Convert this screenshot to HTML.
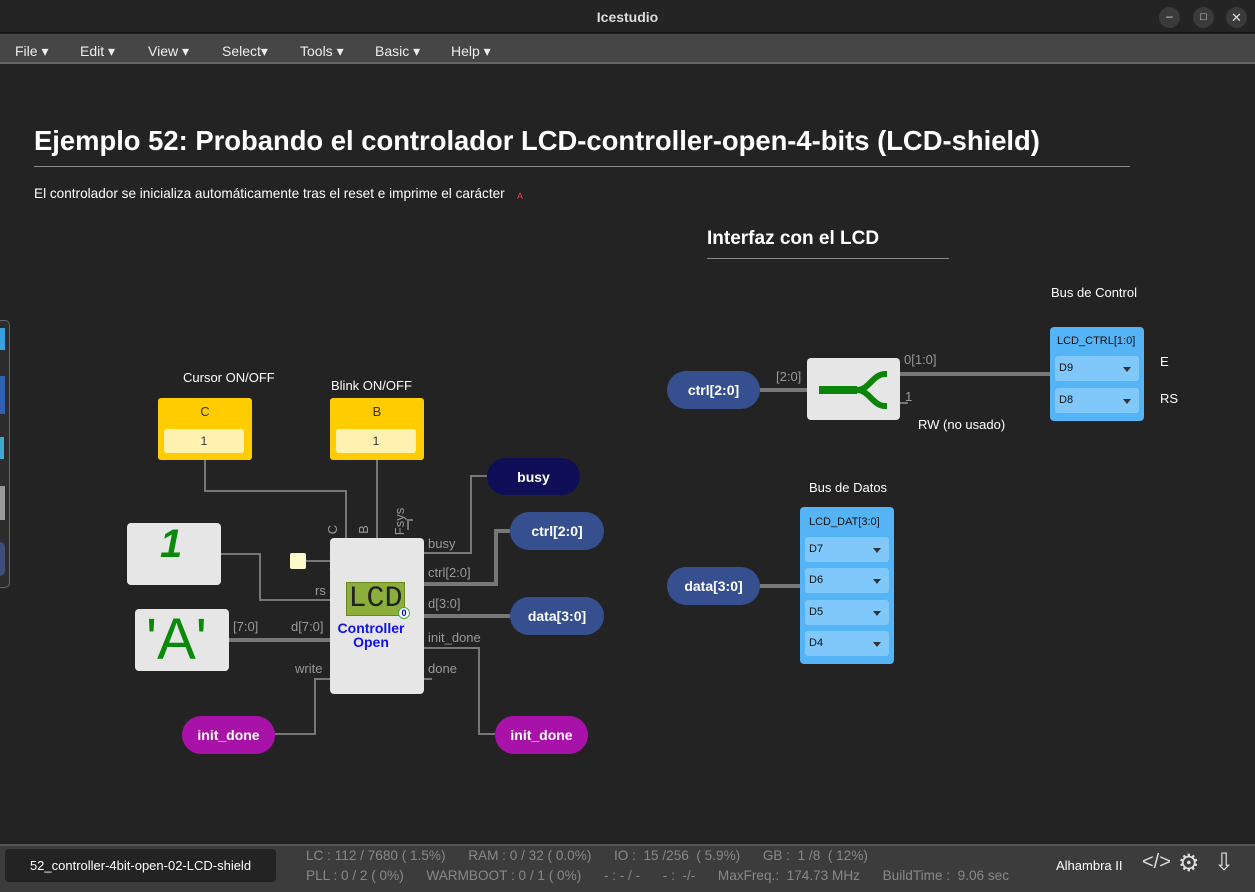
<!DOCTYPE html>
<html><head><meta charset="utf-8"><style>
*{margin:0;padding:0;box-sizing:border-box}
body{width:1255px;height:892px;background:#232323;font-family:"Liberation Sans",sans-serif;position:relative;overflow:hidden;color:#fff}
.a{position:absolute}
.pill{position:absolute;border-radius:19px;display:flex;align-items:center;justify-content:center;font-weight:bold;font-size:14px;color:#fff}
.blk{position:absolute;background:#e6e6e6;border-radius:4px}
.yel{position:absolute;background:#ffcc00;border-radius:3px;color:#333;font-size:13px;text-align:center}
.yel .f{position:absolute;left:6px;right:8px;top:31px;height:24px;background:#fff2b0;border-radius:3px;line-height:24px;font-size:12px}
.lbl{position:absolute;font-size:13px;color:#fff;white-space:nowrap}
.pl{position:absolute;font-size:13px;color:#999;white-space:nowrap}
.blue{position:absolute;background:#55b4f6;border-radius:4px;color:#111;font-size:11px}
.fd{position:absolute;left:5px;right:5px;height:25px;background:#80c8fa;border-radius:3px;font-size:11px;line-height:25px;padding-left:4px}
.fd:after{content:"";position:absolute;right:8px;top:11px;border-left:4px solid transparent;border-right:4px solid transparent;border-top:5px solid #333}
</style></head><body>
<div class="a" style="left:0;top:0;width:1255px;height:33px;background:#242424;border-bottom:1px solid #111"></div>
<div class="a" style="left:0;top:9px;width:1255px;text-align:center;font-size:14px;font-weight:bold;color:#ddd">Icestudio</div>
<div class="a" style="left:1159px;top:7px;width:21px;height:21px;border-radius:50%;background:#3a3a3a;color:#ddd;font-size:12px;text-align:center;line-height:19px">–</div>
<div class="a" style="left:1193px;top:7px;width:21px;height:21px;border-radius:50%;background:#3a3a3a;color:#ddd;font-size:11px;text-align:center;line-height:21px">□</div>
<div class="a" style="left:1226px;top:7px;width:21px;height:21px;border-radius:50%;background:#3a3a3a;color:#ddd;font-size:13px;text-align:center;line-height:21px">✕</div>
<div class="a" style="left:0;top:34px;width:1255px;height:30px;background:#464646;border-bottom:2px solid #666"></div>
<div class="a" style="top:43px;left:15px;font-size:14px;color:#eee">File ▾</div>
<div class="a" style="top:43px;left:80px;font-size:14px;color:#eee">Edit ▾</div>
<div class="a" style="top:43px;left:148px;font-size:14px;color:#eee">View ▾</div>
<div class="a" style="top:43px;left:222px;font-size:14px;color:#eee">Select▾</div>
<div class="a" style="top:43px;left:300px;font-size:14px;color:#eee">Tools ▾</div>
<div class="a" style="top:43px;left:375px;font-size:14px;color:#eee">Basic ▾</div>
<div class="a" style="top:43px;left:451px;font-size:14px;color:#eee">Help ▾</div>

<div class="a" style="left:34px;top:125px;font-size:27.4px;font-weight:bold">Ejemplo 52: Probando el controlador LCD-controller-open-4-bits (LCD-shield)</div>
<div class="a" style="left:34px;top:166px;width:1096px;height:1px;background:#888"></div>
<div class="a" style="left:34px;top:186px;font-size:13.6px">El controlador se inicializa automáticamente tras el reset e imprime el carácter</div>
<div class="a" style="left:517px;top:191px;font-size:9px;color:#e0405a">A</div>
<div class="a" style="left:707px;top:228px;font-size:19px;font-weight:bold">Interfaz con el LCD</div>
<div class="a" style="left:707px;top:258px;width:242px;height:1px;background:#888"></div>

<div class="a" style="left:0;top:320px;width:10px;height:268px;border:1px solid #666;border-left:none;border-radius:0 5px 5px 0;background:#2c2c2c"></div>
<div class="a" style="left:0;top:328px;width:5px;height:22px;background:#3aa0e0"></div>
<div class="a" style="left:0;top:376px;width:5px;height:38px;background:#3060b0"></div>
<div class="a" style="left:0;top:437px;width:4px;height:22px;background:#40a8d0"></div>
<div class="a" style="left:0;top:486px;width:5px;height:34px;background:#999"></div>
<div class="a" style="left:0;top:542px;width:5px;height:34px;background:#3e4e78;border-radius:0 10px 10px 0"></div>

<svg class="a" style="left:0;top:0" width="1255" height="892">
<g fill="none" stroke="#777" stroke-width="2">
<path d="M205 460V491H346V538"/>
<path d="M377 460V538"/>
<path d="M408 530V520H413"/>
<path d="M221 554H260V600H330"/>
<path d="M306 561H330"/>
<path d="M424 553H471V476H487"/>
<path d="M424 648H479V734H495"/>
<path d="M424 679H432"/>
<path d="M330 679H315V734H275"/>
<path d="M900 403H908"/>
</g>
<g fill="none" stroke="#777" stroke-width="4">
<path d="M229 640H330"/>
<path d="M424 584H496V531H510"/>
<path d="M424 616H510"/>
<path d="M760 390H807"/>
<path d="M900 374H1050"/>
<path d="M760 586H800"/>
</g>
<path d="M330 553L340 561L330 569" fill="#e6e6e6" stroke="#777" stroke-width="1.5"/>
</svg>

<div class="lbl" style="left:183px;top:370px">Cursor ON/OFF</div>
<div class="lbl" style="left:331px;top:378px">Blink ON/OFF</div>
<div class="yel" style="left:158px;top:398px;width:94px;height:62px;padding-top:6px">C<div class="f">1</div></div>
<div class="yel" style="left:330px;top:398px;width:94px;height:62px;padding-top:6px">B<div class="f">1</div></div>

<div class="blk" style="left:127px;top:523px;width:94px;height:62px"></div>
<div class="a" style="left:160px;top:522px;font-size:40px;font-weight:bold;font-style:italic;color:#0a8a0a">1</div>
<div class="blk" style="left:135px;top:609px;width:94px;height:62px"></div>
<div class="a" style="left:146px;top:608px;font-size:58px;color:#0a8a0a;line-height:64px">'A'</div>
<div class="a" style="left:290px;top:553px;width:16px;height:16px;background:#fdf9c8;border-radius:2px"></div>

<div class="blk" style="left:330px;top:538px;width:94px;height:156px"></div>
<div class="a" style="left:346px;top:582px;width:59px;height:34px;background:#8cae3a;border:1px solid #6a8a20;color:#222;font-family:'Liberation Mono',monospace;font-size:30px;line-height:32px;text-align:center">LCD</div>
<div class="a" style="left:398px;top:607px;width:12px;height:12px;border-radius:50%;background:#fff;border:1px solid #4a4;color:#00c;font-size:9px;font-weight:bold;text-align:center;line-height:10px">0</div>
<div class="a" style="left:330px;top:621px;width:82px;text-align:center;color:#1010ee;font-weight:bold;font-size:14px;line-height:14px">Controller<br>Open</div>

<div class="pl" style="left:328px;top:522px;transform:rotate(-90deg)">C</div>
<div class="pl" style="left:359px;top:522px;transform:rotate(-90deg)">B</div>
<div class="pl" style="left:386px;top:514px;transform:rotate(-90deg)">Fsys</div>
<div class="pl" style="left:315px;top:583px">rs</div>
<div class="pl" style="left:233px;top:619px">[7:0]</div>
<div class="pl" style="left:291px;top:619px">d[7:0]</div>
<div class="pl" style="left:295px;top:661px">write</div>
<div class="pl" style="left:428px;top:536px">busy</div>
<div class="pl" style="left:428px;top:565px">ctrl[2:0]</div>
<div class="pl" style="left:428px;top:596px">d[3:0]</div>
<div class="pl" style="left:428px;top:630px">init_done</div>
<div class="pl" style="left:428px;top:661px">done</div>

<div class="pill" style="left:487px;top:458px;width:93px;height:37px;background:#0f0f58">busy</div>
<div class="pill" style="left:510px;top:512px;width:94px;height:38px;background:#36508f">ctrl[2:0]</div>
<div class="pill" style="left:510px;top:597px;width:94px;height:38px;background:#36508f">data[3:0]</div>
<div class="pill" style="left:182px;top:716px;width:93px;height:38px;background:#a812a8">init_done</div>
<div class="pill" style="left:495px;top:716px;width:93px;height:38px;background:#a812a8">init_done</div>

<div class="pill" style="left:667px;top:371px;width:93px;height:38px;background:#36508f">ctrl[2:0]</div>
<div class="pill" style="left:667px;top:567px;width:93px;height:38px;background:#36508f">data[3:0]</div>
<div class="pl" style="left:776px;top:369px">[2:0]</div>
<div class="pl" style="left:904px;top:352px">0[1:0]</div>
<div class="pl" style="left:905px;top:389px">1</div>
<div class="blk" style="left:807px;top:358px;width:93px;height:62px"></div>
<svg class="a" style="left:807px;top:358px" width="93" height="62"><path d="M12 32H50M50 32C62 32 66 16 78 16H80M50 32C62 32 66 48 78 48H80" fill="none" stroke="#0a850a" stroke-width="6"/><path d="M12 28H50V36H12Z" fill="#0a850a"/></svg>
<div class="lbl" style="left:918px;top:417px">RW (no usado)</div>
<div class="lbl" style="left:1051px;top:285px">Bus de Control</div>
<div class="lbl" style="left:1160px;top:354px">E</div>
<div class="lbl" style="left:1160px;top:391px">RS</div>
<div class="blue" style="left:1050px;top:327px;width:94px;height:94px"><div class="a" style="left:7px;top:8px">LCD_CTRL[1:0]</div><div class="fd" style="top:29px">D9</div><div class="fd" style="top:61px">D8</div></div>
<div class="lbl" style="left:809px;top:480px">Bus de Datos</div>
<div class="blue" style="left:800px;top:507px;width:94px;height:157px"><div class="a" style="left:9px;top:9px">LCD_DAT[3:0]</div><div class="fd" style="top:30px">D7</div><div class="fd" style="top:61px">D6</div><div class="fd" style="top:93px">D5</div><div class="fd" style="top:124px">D4</div></div>

<div class="a" style="left:0;top:844px;width:1255px;height:48px;background:#3c3c3c;border-top:2px solid #555"></div>
<div class="a" style="left:5px;top:849px;width:271px;height:33px;background:#232323;border-radius:4px;font-size:13px;color:#fff;line-height:33px;text-align:center">52_controller-4bit-open-02-LCD-shield</div>
<div class="a" style="left:306px;top:848px;font-size:13.6px;color:#888;white-space:pre">LC : 112 / 7680 ( 1.5%)      RAM : 0 / 32 ( 0.0%)      IO :  15 /256  ( 5.9%)      GB :  1 /8  ( 12%)</div>
<div class="a" style="left:306px;top:868px;font-size:13.6px;color:#888;white-space:pre">PLL : 0 / 2 ( 0%)      WARMBOOT : 0 / 1 ( 0%)      - : - / -      - :  -/-      MaxFreq.:  174.73 MHz      BuildTime :  9.06 sec</div>
<div class="a" style="left:1056px;top:858px;font-size:13px;color:#fff">Alhambra II</div>
<div class="a" style="left:1142px;top:851px;font-size:20px;color:#ddd">&lt;/&gt;</div>
<div class="a" style="left:1178px;top:849px;font-size:24px;color:#ddd">⚙</div>
<div class="a" style="left:1214px;top:848px;font-size:24px;color:#ddd">⇩</div>
</body></html>
